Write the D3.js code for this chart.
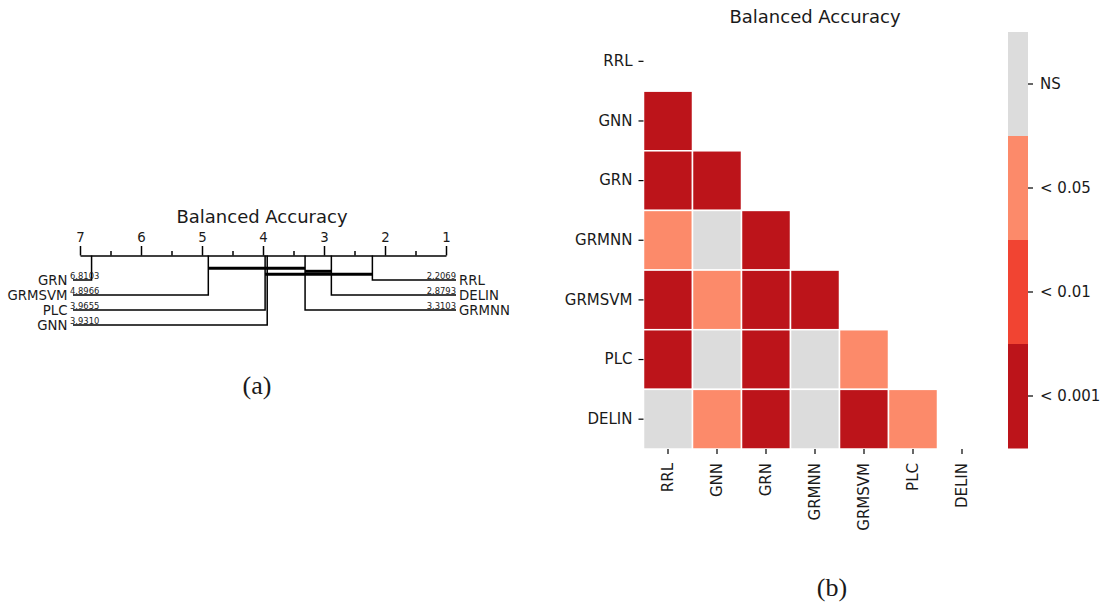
<!DOCTYPE html>
<html>
<head>
<meta charset="utf-8">
<script src="https://cdn.jsdelivr.net/npm/d3@7"></script>
<style>
  body { margin: 0; background: #fff; }
  svg { display: block; font-family: "DejaVu Sans", sans-serif; }
  text { fill: #1a1a1a; }
</style>
</head>
<body>
<svg id="chart" width="1103" height="602"></svg>
<script>
// ---- data: critical difference diagram (a) ----
const cdNames = ["GRN", "GRMSVM", "PLC", "GNN", "GRMNN", "DELIN", "RRL"];
const cdRanks = [6.8103, 4.8966, 3.9655, 3.9310, 3.3103, 2.8793, 2.2069];
const cdTicks = [7, 6, 5, 4, 3, 2, 1];
const cdHalfTicks = [6.5, 5.5, 4.5, 3.5, 2.5, 1.5];
const cdCliques = [[4.8966, 3.3103], [3.3103, 2.8793], [3.9655, 2.2069]];

// ---- data: significance plot (b) ----
const methods = ["RRL", "GNN", "GRN", "GRMNN", "GRMSVM", "PLC", "DELIN"];
const levels = ["NS", "< 0.05", "< 0.01", "< 0.001"];
const levelColors = ["#dcdcdc", "#fc8a6a", "#f14432", "#bc141a"];
// lower triangle, index into levels
const sigRows = [
  [],
  [3],
  [3, 3],
  [1, 0, 3],
  [3, 1, 3, 3],
  [3, 0, 3, 0, 1],
  [0, 1, 3, 0, 3, 1]
];

const svg = d3.select("#chart");

// ================= (a) CD diagram =================
const cd = svg.append("g");
const axisY = 255.5;
const rx = d3.scaleLinear().domain([7, 1]).range([80, 446]);

cd.append("text")
  .attr("x", 262).attr("y", 223)
  .attr("text-anchor", "middle")
  .style("font-size", "18px")
  .text("Balanced Accuracy");

const bigAxis = cd.append("g")
  .attr("transform", `translate(0,${axisY})`)
  .call(d3.axisTop(rx).tickValues(cdTicks).tickSize(9.5).tickSizeOuter(0).tickPadding(4).tickFormat(d3.format("d")));
bigAxis.select(".domain").attr("stroke-width", 1.5);
bigAxis.selectAll(".tick line").attr("stroke-width", 1.5);
bigAxis.selectAll(".tick text").style("font-size", "13.3px").attr("font-family", "DejaVu Sans");

const smallAxis = cd.append("g")
  .attr("transform", `translate(0,${axisY})`)
  .call(d3.axisTop(rx).tickValues(cdHalfTicks).tickSize(4.5).tickFormat(""));
smallAxis.select(".domain").remove();
smallAxis.selectAll(".tick line").attr("stroke-width", 1.5);

const nLeft = Math.ceil(cdNames.length / 2);
const rowY = i => 280 + i * 15;
const leftItems = cdNames.slice(0, nLeft).map((n, i) => ({ name: n, rank: cdRanks[i], row: i, side: "left" }));
const rightItems = cdNames.slice(nLeft).map((n, i) => ({ name: n, rank: cdRanks[nLeft + i] }))
  .sort((a, b) => a.rank - b.rank)
  .map((d, i) => ({ ...d, row: i, side: "right" }));
const items = leftItems.concat(rightItems);

cd.selectAll("path.rank")
  .data(items)
  .join("path")
  .attr("class", "rank")
  .attr("fill", "none")
  .attr("stroke", "#000")
  .attr("stroke-width", 1.5)
  .attr("d", d => {
    const x = rx(d.rank), y = rowY(d.row);
    const xe = d.side === "left" ? 73 : 456;
    return `M${x},${axisY}V${y}H${xe}`;
  });

cd.selectAll("text.name")
  .data(items)
  .join("text")
  .attr("class", "name")
  .attr("x", d => d.side === "left" ? 67.5 : 459)
  .attr("y", d => rowY(d.row))
  .attr("dy", "0.36em")
  .attr("text-anchor", d => d.side === "left" ? "end" : "start")
  .style("font-size", "13.3px")
  .text(d => d.name);

cd.selectAll("text.rk")
  .data(items)
  .join("text")
  .attr("class", "rk")
  .attr("x", d => d.side === "left" ? 70 : 456)
  .attr("y", d => rowY(d.row) - 1.5)
  .attr("text-anchor", d => d.side === "left" ? "start" : "end")
  .style("font-size", "8.4px")
  .text(d => d.rank.toFixed(4));

cd.selectAll("line.clique")
  .data(cdCliques)
  .join("line")
  .attr("class", "clique")
  .attr("x1", d => rx(d[0]))
  .attr("x2", d => rx(d[1]))
  .attr("y1", (d, i) => 268.3 + i * 3)
  .attr("y2", (d, i) => 268.3 + i * 3)
  .attr("stroke", "#000")
  .attr("stroke-width", 3);

svg.append("text")
  .attr("x", 257).attr("y", 394)
  .attr("text-anchor", "middle")
  .style("font-family", "'Liberation Serif', serif")
  .style("font-size", "26px")
  .text("(a)");

// ================= (b) significance heatmap =================
const hm = svg.append("g");
const x = d3.scaleBand().domain(methods).range([643.5, 986.5]);
const y = d3.scaleBand().domain(methods).range([31.5, 449]);

hm.append("text")
  .attr("x", 815).attr("y", 23)
  .attr("text-anchor", "middle")
  .style("font-size", "18px")
  .text("Balanced Accuracy");

const cells = [];
sigRows.forEach((row, i) => row.forEach((v, j) => cells.push({ r: methods[i], c: methods[j], v })));

hm.selectAll("rect.cell")
  .data(cells)
  .join("rect")
  .attr("class", "cell")
  .attr("x", d => x(d.c))
  .attr("y", d => y(d.r))
  .attr("width", x.bandwidth())
  .attr("height", y.bandwidth())
  .attr("fill", d => levelColors[d.v])
  .attr("stroke", "#fff")
  .attr("stroke-width", 1.5);

const yAx = hm.append("g")
  .attr("transform", `translate(643.5,0)`)
  .call(d3.axisLeft(y).tickSize(5).tickPadding(6));
yAx.select(".domain").remove();
yAx.selectAll(".tick line").attr("stroke-width", 1.2);
yAx.selectAll(".tick text").style("font-size", "15px").attr("font-family", "DejaVu Sans");

const xAx = hm.append("g")
  .attr("transform", `translate(0,449)`)
  .call(d3.axisBottom(x).tickSize(5).tickPadding(0));
xAx.select(".domain").remove();
xAx.selectAll(".tick line").attr("stroke-width", 1.2);
xAx.selectAll(".tick text")
  .style("font-size", "15px").attr("font-family", "DejaVu Sans")
  .attr("text-anchor", "end")
  .attr("transform", "rotate(-90)")
  .attr("x", -14).attr("y", 0).attr("dy", "0.36em");

// colorbar
const cb = d3.scaleBand().domain(levels).range([32, 448]);
hm.selectAll("rect.cb")
  .data(levels)
  .join("rect")
  .attr("class", "cb")
  .attr("x", 1008)
  .attr("y", d => cb(d))
  .attr("width", 20)
  .attr("height", cb.bandwidth() + 0.5)
  .attr("fill", (d, i) => levelColors[i]);

const cbAx = hm.append("g")
  .attr("transform", "translate(1028,0)")
  .call(d3.axisRight(cb).tickSize(5).tickPadding(7));
cbAx.select(".domain").remove();
cbAx.selectAll(".tick line").attr("stroke-width", 1.2);
cbAx.selectAll(".tick text").style("font-size", "15px").attr("font-family", "DejaVu Sans");

svg.append("text")
  .attr("x", 832).attr("y", 596)
  .attr("text-anchor", "middle")
  .style("font-family", "'Liberation Serif', serif")
  .style("font-size", "26px")
  .text("(b)");
</script>
</body>
</html>
